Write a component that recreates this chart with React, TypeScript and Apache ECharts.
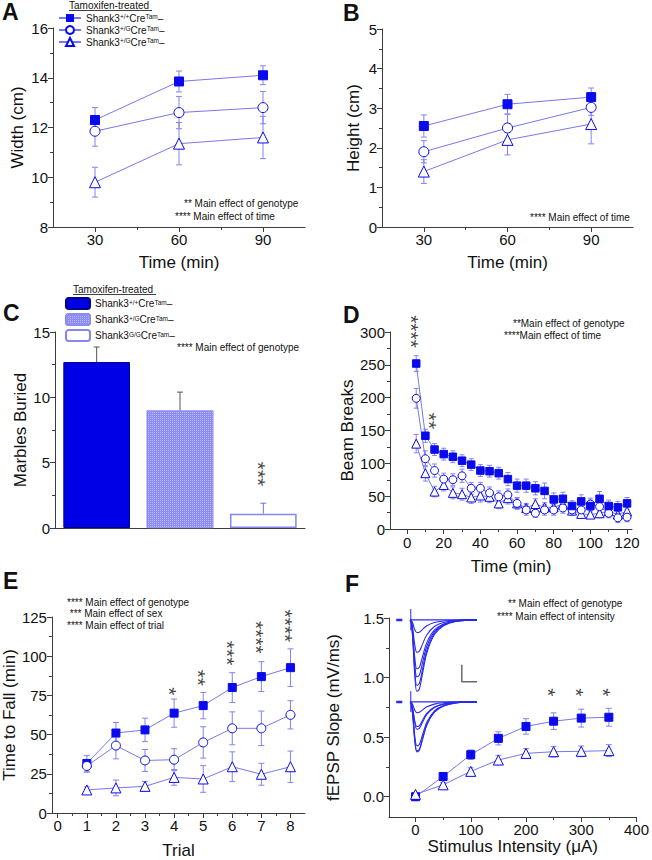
import React, { useEffect, useRef } from 'react';
import * as echarts from 'echarts';

const FONT = '"Liberation Sans", Arial, Helvetica, sans-serif';
const MARK = '#0a0aee';
const LINE = '#7878ea';
const ERRC = '#8484ee';
const AXIS = '#3c3c3c';
const TXT = '#111111';

// ---------- Panel A: width ----------
const timeAB = [30, 60, 90];
const widthWT = [12.3, 13.85, 14.1];
const widthWTErr = [0.5, 0.42, 0.38];
const widthHet = [11.85, 12.6, 12.8];
const widthHetErr = [0.6, 0.65, 0.65];
const widthHom = [9.8, 11.35, 11.6];
const widthHomErr = [0.6, 0.85, 0.85];

// ---------- Panel B: height ----------
const heightWT = [2.55, 3.1, 3.28];
const heightWTErr = [0.28, 0.25, 0.23];
const heightHet = [1.9, 2.5, 3.02];
const heightHetErr = [0.28, 0.35, 0.2];
const heightHom = [1.4, 2.2, 2.6];
const heightHomErr = [0.3, 0.38, 0.5];

// ---------- Panel C: marbles ----------
const marbleGroups = ['+/+', '+/G', 'G/G'];
const marbles = [12.7, 9.0, 1.1];
const marblesErr = [1.15, 1.4, 0.8];
const marbleStarX = [2];
const marbleStarY = [4.13];
const marbleStars = ['***'];

// ---------- Panel D: beam breaks ----------
const beamTime = [5, 10, 15, 20, 25, 30, 35, 40, 45, 50, 55, 60, 65, 70, 75, 80, 85, 90, 95, 100, 105, 110, 115, 120];
const beamWT = [252, 142, 121, 114, 110, 104, 98, 89, 88, 85, 76, 66, 66, 62, 58, 45, 46, 35, 42, 35, 46, 35, 33, 39];
const beamWTErr = [12, 10, 9, 9, 9, 9, 9, 9, 9, 9, 10, 10, 10, 10, 12, 10, 10, 8, 10, 9, 11, 9, 9, 9];
const beamHet = [199, 107, 89, 76, 75, 81, 62, 62, 55, 49, 52, 39, 29, 24, 29, 29, 32, 29, 29, 38, 34, 24, 17, 18];
const beamHetErr = [15, 12, 10, 9, 9, 10, 9, 9, 9, 9, 9, 9, 8, 6, 8, 8, 8, 7, 8, 9, 8, 7, 7, 7];
const beamHom = [130, 85, 57, 67, 55, 53, 48, 51, 49, 39, 47, 39, 32, 38, 33, 33, 38, 28, 23, 22, 24, 27, 22, 27];
const beamHomErr = [14, 12, 8, 9, 9, 9, 9, 10, 9, 8, 9, 8, 7, 8, 7, 8, 8, 7, 6, 6, 7, 7, 6, 7];
const beamStarX = [5, 15];
const beamStarY = [300.8, 164.5];
const beamStars = ['****', '**'];

// ---------- Panel E: rotarod ----------
const trials = [1, 2, 3, 4, 5, 6, 7, 8];
const fallWT = [31.6, 51, 53, 63.7, 68.5, 80, 87, 92.7];
const fallWTErr = [5, 6.7, 7.5, 9, 8.4, 9.5, 9.5, 12];
const fallHet = [30, 43, 33.5, 34, 45, 54, 54, 62.6];
const fallHetErr = [4, 8.5, 7, 7, 10, 10.5, 11, 9];
const fallHom = [14.7, 16, 17, 22.7, 21.7, 29.5, 24.7, 29.5];
const fallHomErr = [2, 5, 3, 5, 8.5, 9.5, 7, 10];
const fallStarX = [4, 5, 6, 7, 8];
const fallStarY = [77.6, 86.2, 102, 112, 119.3];
const fallStars = ['*', '**', '***', '****', '****'];

// ---------- Panel F: fEPSP ----------
const intensity = [0, 50, 100, 150, 200, 250, 300, 350];
const slopeWT = [0, 0.17, 0.353, 0.49, 0.59, 0.634, 0.66, 0.667];
const slopeWTErr = [0.03, 0.02, 0.04, 0.055, 0.065, 0.07, 0.075, 0.075];
const slopeHom = [0.02, 0.1, 0.213, 0.308, 0.364, 0.378, 0.381, 0.387];
const slopeHomErr = [0.01, 0.02, 0.03, 0.04, 0.04, 0.045, 0.045, 0.05];
const slopeStarX = [250, 300, 350];
const slopeStarY = [0.876, 0.876, 0.876];
const slopeStars = ['*', '*', '*'];

// ---------- Panel F inset: example traces (ms, mV) ----------
const traceTime = [0, 0.4, 0.9, 1.5, 2.2, 3.0, 4.0, 5.5, 8, 11, 15, 22];
const traceShape = [0, -0.05, -0.3, -0.75, -0.98, -0.95, -0.75, -0.45, -0.2, -0.08, -0.02, 0];
const traceDepthTop = [0, 0.38, 0.97, 1.47, 1.71, 1.97, 2.15];
const traceDepthBottom = [0, 0.32, 0.74, 0.82, 1.32, 1.47, 1.5];
const artifactT = [0.2, 0.2];
const artifactV = [0.32, -0.3];
const dashT = [-4.6, -2.6];
const dashV = [0, 0];
const scaleBarT = [17, 17, 22];
const scaleBarV = [-1.32, -1.82, -1.82];

// ---------- tick values ----------
const ticksAB = [30, 60, 90];
const minorAB = [45, 75];
const ticksD = [0, 20, 40, 60, 80, 100, 120];
const minorD = [10, 30, 50, 70, 90, 110];
const ticksE = [0, 1, 2, 3, 4, 5, 6, 7, 8];
const minorE = [0.5, 1.5, 2.5, 3.5, 4.5, 5.5, 6.5, 7.5];
const ticksFx = [0, 100, 200, 300, 400];
const minorFx = [50, 150, 250, 350];
const ticksFy = [0, 0.5, 1.0, 1.5];
const minorFy = [0.25, 0.75, 1.25];

const supA: Record<string, string> = { WT: '+/+', Het: '+/G', Hom: '+/G' };
const supC: Record<string, string> = { cWT: '+/+', cHet: '+/G', cHom: 'G/G' };

const pairs = (xs: number[], ys: number[]) => xs.map((x, i) => [x, ys[i]]);

function lineS(name: string, xi: number, yi: number, xs: number[], ys: number[], symbol: string, size: number, filled: boolean) {
  return {
    type: 'line', name, xAxisIndex: xi, yAxisIndex: yi, data: pairs(xs, ys),
    symbol, symbolSize: size, showSymbol: true, clip: false,
    lineStyle: { color: LINE, width: 1 },
    itemStyle: filled ? { color: MARK, borderColor: MARK } : { color: '#ffffff', borderColor: MARK, borderWidth: 1 },
    z: 4, silent: true,
  };
}

function errS(xi: number, yi: number, xs: number[], ys: number[], es: number[], cap: number, colors?: string[], upOnly = false) {
  return {
    type: 'custom', xAxisIndex: xi, yAxisIndex: yi, silent: true, z: 3, clip: false,
    data: xs.map((x, i) => [x, ys[i], es[i]]),
    renderItem: (params: any, api: any) => {
      const x = api.value(0), y = api.value(1), e = api.value(2);
      const hi = api.coord([x, y + e]);
      const lo = api.coord([x, upOnly ? y : y - e]);
      const stroke = colors ? colors[params.dataIndex] : ERRC;
      const style = { stroke, lineWidth: 1, fill: null };
      const children: any[] = [
        { type: 'line', shape: { x1: hi[0], y1: hi[1], x2: lo[0], y2: lo[1] }, style },
        { type: 'line', shape: { x1: hi[0] - cap, y1: hi[1], x2: hi[0] + cap, y2: hi[1] }, style },
      ];
      if (!upOnly) children.push({ type: 'line', shape: { x1: lo[0] - cap, y1: lo[1], x2: lo[0] + cap, y2: lo[1] }, style });
      return { type: 'group', children };
    },
  };
}

// significance stars: one line of asterisks turned upright so they stack vertically
function starS(xi: number, yi: number, xs: number[], ys: number[], labels: string[]) {
  return {
    type: 'scatter', xAxisIndex: xi, yAxisIndex: yi, symbolSize: 0, silent: true, z: 6, clip: false,
    data: xs.map((x, i) => ({ value: [x, ys[i]], label: { formatter: labels[i] } })),
    label: {
      show: true, position: 'inside', rotate: -90, align: 'center', verticalAlign: 'middle',
      offset: [0, 5], fontSize: 21, color: TXT, fontFamily: FONT,
    },
  };
}

function traceS(xi: number, yi: number, xs: number[], ys: number[], width: number, color: string, smooth: number | boolean) {
  return {
    type: 'line', xAxisIndex: xi, yAxisIndex: yi, data: pairs(xs, ys), symbol: 'none', smooth,
    lineStyle: { color, width }, silent: true, z: 5, clip: false,
  };
}

const valAxis = (gridIndex: number, min: number, max: number, extra: any = {}) => ({
  type: 'value', gridIndex, min, max,
  axisLine: { show: true, onZero: false, lineStyle: { color: AXIS, width: 1 } },
  axisTick: { show: true, length: 5, lineStyle: { color: AXIS } },
  minorTick: { show: false },
  splitLine: { show: false },
  axisLabel: { color: TXT, fontSize: 15, fontFamily: FONT, margin: 5 },
  nameLocation: 'middle',
  nameTextStyle: { color: TXT, fontSize: 17, fontFamily: FONT, fontWeight: 'normal' },
  ...extra,
});

const minorAxis = (gridIndex: number, min: number, max: number, vals: number[], position: string) => ({
  type: 'value', gridIndex, min, max, position,
  axisLine: { show: false, onZero: false },
  axisLabel: { show: false },
  splitLine: { show: false },
  axisTick: { show: true, length: 3, customValues: vals, lineStyle: { color: AXIS } },
});

const yMinor = { minorTick: { show: true, splitNumber: 2, length: 3, lineStyle: { color: AXIS } } };

const text = (t: string, x: number, y: number, size: number, extra: any = {}) => ({
  type: 'text', x, y, silent: true,
  style: { text: t, fontSize: size, fontFamily: FONT, fill: TXT, textVerticalAlign: 'middle', ...extra },
});

const xLab = (vals: number[], margin = 5) => ({
  axisTick: { show: true, length: 5, customValues: vals, lineStyle: { color: AXIS } },
  axisLabel: { color: TXT, fontSize: 15, fontFamily: FONT, margin, customValues: vals },
});

export default function App() {
  const ref = useRef<HTMLDivElement>(null);
  useEffect(() => {
    if (!ref.current) return;
    const chart = echarts.init(ref.current, undefined, { renderer: 'svg' });

    const legendText = {
      fontSize: 10, fontFamily: FONT, color: TXT,
      rich: { s: { fontSize: 6.5, fontFamily: FONT, color: TXT, verticalAlign: 'top', lineHeight: 8 } },
    };

    const series: any[] = [
      // A
      errS(0, 0, timeAB, widthWT, widthWTErr, 3),
      errS(0, 0, timeAB, widthHet, widthHetErr, 3),
      errS(0, 0, timeAB, widthHom, widthHomErr, 3),
      lineS('WT', 0, 0, timeAB, widthWT, 'rect', 9, true),
      lineS('Het', 0, 0, timeAB, widthHet, 'circle', 10, false),
      lineS('Hom', 0, 0, timeAB, widthHom, 'triangle', 11, false),
      // B
      errS(1, 1, timeAB, heightWT, heightWTErr, 3),
      errS(1, 1, timeAB, heightHet, heightHetErr, 3),
      errS(1, 1, timeAB, heightHom, heightHomErr, 3),
      lineS('WT', 1, 1, timeAB, heightWT, 'rect', 9, true),
      lineS('Het', 1, 1, timeAB, heightHet, 'circle', 10, false),
      lineS('Hom', 1, 1, timeAB, heightHom, 'triangle', 11, false),
      // C
      {
        type: 'bar', name: 'cWT', xAxisIndex: 2, yAxisIndex: 2, data: [marbles[0], '-', '-'],
        barWidth: '80%', barGap: '-100%', itemStyle: { color: '#0000e6', borderColor: '#00008c', borderWidth: 1 }, silent: true,
      },
      {
        type: 'bar', name: 'cHet', xAxisIndex: 2, yAxisIndex: 2, data: ['-', marbles[1], '-'],
        barWidth: '80%', barGap: '-100%', silent: true,
        itemStyle: {
          color: '#8c8cf2', borderColor: '#8c8cf2', borderWidth: 0.5,
          decal: { symbol: 'rect', symbolSize: 1, dashArrayX: [1, 1], dashArrayY: [1, 1], color: 'rgba(255,255,255,0.4)', rotation: 0 },
        },
      },
      {
        type: 'bar', name: 'cHom', xAxisIndex: 2, yAxisIndex: 2, data: ['-', '-', marbles[2]],
        barWidth: '80%', barGap: '-100%', itemStyle: { color: '#ffffff', borderColor: '#8686f0', borderWidth: 1.5 }, silent: true,
      },
      errS(2, 2, [0, 1, 2], marbles, marblesErr, 3, ['#555555', '#555555', '#7070ee'], true),
      starS(2, 2, marbleStarX, marbleStarY, marbleStars),
      // D
      errS(3, 3, beamTime, beamHom, beamHomErr, 2.5),
      errS(3, 3, beamTime, beamHet, beamHetErr, 2.5),
      errS(3, 3, beamTime, beamWT, beamWTErr, 2.5),
      lineS('Hom', 3, 3, beamTime, beamHom, 'triangle', 9, false),
      lineS('Het', 3, 3, beamTime, beamHet, 'circle', 8, false),
      lineS('WT', 3, 3, beamTime, beamWT, 'rect', 7.5, true),
      starS(3, 3, beamStarX, beamStarY, beamStars),
      // E
      errS(4, 4, trials, fallWT, fallWTErr, 3),
      errS(4, 4, trials, fallHet, fallHetErr, 3),
      errS(4, 4, trials, fallHom, fallHomErr, 3),
      lineS('WT', 4, 4, trials, fallWT, 'rect', 8, true),
      lineS('Het', 4, 4, trials, fallHet, 'circle', 9, false),
      lineS('Hom', 4, 4, trials, fallHom, 'triangle', 10, false),
      starS(4, 4, fallStarX, fallStarY, fallStars),
      // F
      errS(5, 5, intensity, slopeWT, slopeWTErr, 3),
      errS(5, 5, intensity, slopeHom, slopeHomErr, 3),
      lineS('WT', 5, 5, intensity, slopeWT, 'rect', 8, true),
      lineS('Hom', 5, 5, intensity, slopeHom, 'triangle', 10, false),
      starS(5, 5, slopeStarX, slopeStarY, slopeStars),
    ];

    // inset traces
    traceDepthTop.forEach((d) => series.push(traceS(6, 6, traceTime, traceShape.map((f) => f * d), 1.1, '#2a2aee', 0.35)));
    traceDepthBottom.forEach((d) => series.push(traceS(7, 7, traceTime, traceShape.map((f) => f * d), 1.1, '#2a2aee', 0.35)));
    series.push(traceS(6, 6, artifactT, artifactV, 1, '#2a2aee', false));
    series.push(traceS(7, 7, artifactT, artifactV, 1, '#2a2aee', false));
    series.push(traceS(6, 6, dashT, dashV, 2.5, '#2a2aee', false));
    series.push(traceS(7, 7, dashT, dashV, 2.5, '#2a2aee', false));
    series.push(traceS(6, 6, scaleBarT, scaleBarV, 1.5, '#6a6a6a', false));

    const hiddenAxis = (gridIndex: number, min: number, max: number) => ({ type: 'value', gridIndex, min, max, show: false });

    const option: any = {
      animation: false,
      backgroundColor: '#ffffff',
      textStyle: { fontFamily: FONT },
      grid: [
        { left: 53, top: 28, width: 252, height: 199 },
        { left: 382, top: 29, width: 251, height: 198 },
        { left: 55, top: 332, width: 250, height: 196 },
        { left: 390, top: 332, width: 242, height: 197 },
        { left: 49, top: 617, width: 256, height: 198 },
        { left: 389, top: 618, width: 249, height: 199 },
        { left: 395, top: 606, width: 82, height: 90 },
        { left: 395, top: 688, width: 82, height: 90 },
      ],
      xAxis: [
        valAxis(0, 15, 105, { name: 'Time (min)', nameGap: 27, ...xLab(ticksAB) }),
        valAxis(1, 15, 105, { name: 'Time (min)', nameGap: 27, ...xLab(ticksAB) }),
        {
          type: 'category', gridIndex: 2, data: marbleGroups,
          axisLine: { show: true, lineStyle: { color: AXIS } }, axisTick: { show: false }, axisLabel: { show: false },
        },
        valAxis(3, -9.3, 122.7, { name: 'Time (min)', nameGap: 29, ...xLab(ticksD, 6) }),
        valAxis(4, -0.2, 8.5, { name: 'Trial', nameGap: 29, ...xLab(ticksE) }),
        valAxis(5, -48, 400, { name: 'Stimulus Intensity (μA)', nameGap: 21, ...xLab(ticksFx) }),
        hiddenAxis(6, -5, 22),
        hiddenAxis(7, -5, 22),
        minorAxis(0, 15, 105, minorAB, 'bottom'),
        minorAxis(1, 15, 105, minorAB, 'bottom'),
        minorAxis(3, -9.3, 122.7, minorD, 'bottom'),
        minorAxis(4, -0.2, 8.5, minorE, 'bottom'),
        minorAxis(5, -48, 400, minorFx, 'bottom'),
      ],
      yAxis: [
        valAxis(0, 8, 16, { interval: 2, name: 'Width (cm)', nameGap: 27, ...yMinor }),
        valAxis(1, 0, 5, { interval: 1, name: 'Height (cm)', nameGap: 20, ...yMinor }),
        valAxis(2, 0, 15, { interval: 5, name: 'Marbles Buried', nameGap: 26, ...yMinor }),
        valAxis(3, 0, 300, { interval: 50, name: 'Beam Breaks', nameGap: 33, ...yMinor }),
        valAxis(4, 0, 125, { interval: 25, name: 'Time to Fall (min)', nameGap: 28, ...yMinor }),
        valAxis(5, -0.17, 1.5, {
          name: 'fEPSP Slope (mV/ms)', nameGap: 47,
          axisTick: { show: true, length: 5, customValues: ticksFy, lineStyle: { color: AXIS } },
          axisLabel: { color: TXT, fontSize: 15, fontFamily: FONT, margin: 5, customValues: ticksFy, formatter: (v: number) => v.toFixed(1) },
        }),
        hiddenAxis(6, -2.24, 0.41),
        hiddenAxis(7, -2.24, 0.41),
        minorAxis(5, -0.17, 1.5, minorFy, 'left'),
      ],
      legend: [
        {
          data: ['WT', 'Het', 'Hom'], left: 58, top: 13, orient: 'vertical', padding: 0,
          itemWidth: 22, itemHeight: 10, itemGap: 2, selectedMode: false,
          formatter: (n: string) => `Shank3{s|${supA[n]}}Cre{s|Tam}–`, textStyle: legendText,
        },
        {
          data: ['cWT', 'cHet', 'cHom'], left: 65, top: 297, orient: 'vertical', padding: 0,
          itemWidth: 24, itemHeight: 11, itemGap: 3, selectedMode: false,
          formatter: (n: string) => `Shank3{s|${supC[n]}}Cre{s|Tam}–`, textStyle: legendText,
        },
      ],
      graphic: [
        text('A', 2, 12, 23, { fontWeight: 'bold' }),
        text('B', 343, 13, 23, { fontWeight: 'bold' }),
        text('C', 3, 313, 23, { fontWeight: 'bold' }),
        text('D', 343, 315, 23, { fontWeight: 'bold' }),
        text('E', 3, 581, 23, { fontWeight: 'bold' }),
        text('F', 345, 584, 23, { fontWeight: 'bold' }),
        text('Tamoxifen-treated', 69, 5, 10),
        { type: 'line', silent: true, shape: { x1: 69, y1: 10.5, x2: 152, y2: 10.5 }, style: { stroke: TXT, lineWidth: 0.8 } },
        text('Tamoxifen-treated', 73, 289, 10),
        { type: 'line', silent: true, shape: { x1: 73, y1: 294.5, x2: 156, y2: 294.5 }, style: { stroke: TXT, lineWidth: 0.8 } },
        text('** Main effect of genotype', 184, 203, 10),
        text('**** Main effect of time', 175, 216, 10),
        text('**** Main effect of time', 530, 217, 10),
        text('**** Main effect of genotype', 177, 347, 10),
        text('**Main effect of genotype', 513, 323, 10),
        text('****Main effect of time', 504, 335, 10),
        text('**** Main effect of genotype', 67, 602, 10),
        text(' *** Main effect of sex', 67, 613, 10),
        text('**** Main effect of trial', 67, 625, 10),
        text('** Main effect of genotype', 508, 603, 10),
        text('**** Main effect of intensity', 497, 616, 10),
      ],
      series,
    };

    chart.setOption(option);
    return () => chart.dispose();
  }, []);

  return <div ref={ref} style={{ position: 'absolute', left: 0, top: 0, width: 652, height: 860 }} />;
}
